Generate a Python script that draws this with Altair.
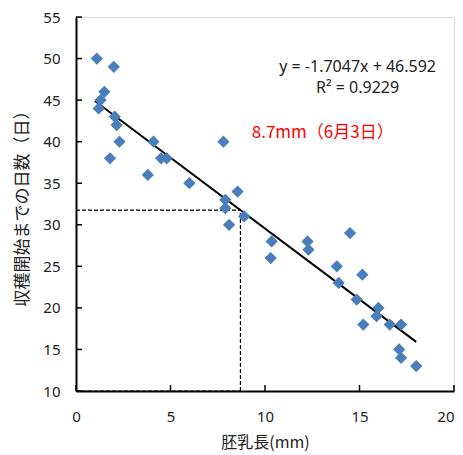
import altair as alt
import pandas as pd

# Data
length_mm = [1.1, 2.0, 1.5, 1.3, 1.2, 2.05, 2.15, 2.3, 1.8, 4.1, 3.8, 4.5, 4.8, 6.0,
             7.8, 8.55, 7.9, 7.9, 8.1, 8.9, 10.35, 10.3, 12.25, 12.3, 14.5, 13.8,
             13.9, 15.15, 14.85, 16.0, 15.9, 15.2, 16.6, 17.2, 17.1, 17.2, 18.0]
days = [50, 49, 46, 45, 44, 43, 42, 40, 38, 40, 36, 38, 38, 35,
        40, 34, 33, 32, 30, 31, 28, 26, 28, 27, 29, 25,
        23, 24, 21, 20, 19, 18, 18, 18, 15, 14, 13]

slope = -1.7047
intercept = 46.592
fit_x = [1.0, 18.0]

ref_x = 8.7
ref_y = 31.76

x_ticks = [0, 5, 10, 15, 20]
y_ticks = [10, 15, 20, 25, 30, 35, 40, 45, 50, 55]

eq_text = ["y = -1.7047x + 46.592", "R² = 0.9229"]
eq_pos_x = [14.9, 14.9]
eq_pos_y = [49.0, 46.5]
note_text = "8.7mm（6月3日）"
note_x = 9.3
note_y = 41.1

pts = pd.DataFrame({"x": length_mm, "y": days})
fit = pd.DataFrame({"x": fit_x, "y": [slope * v + intercept for v in fit_x]})

xs = alt.Scale(domain=[0, 20], nice=False, zero=False)
ys = alt.Scale(domain=[10, 55], nice=False, zero=False)

FONT = "Noto Sans"
JP = "Noto Sans CJK JP"

points = alt.Chart(pts).mark_point(shape="diamond", filled=True, size=150,
                                   color="#4A7EBB", opacity=1).encode(
    x=alt.X("x:Q", scale=xs, title="胚乳長(mm)",
            axis=alt.Axis(values=x_ticks, grid=False, ticks=False, tickSize=0,
                          labelFlush=False, labelOverlap=False,
                          labelAlign={"condition": {"test": "datum.value == 20", "value": "right"},
                                      "value": "center"},
                          domainColor="black", domainWidth=2,
                          labelFont=FONT, labelFontSize=15, labelColor="#222",
                          labelPadding=18, titleFont=JP, titleFontSize=16,
                          titleFontWeight="normal", titleColor="#222",
                          titlePadding=10)),
    y=alt.Y("y:Q", scale=ys, title="収穫開始までの日数（日）",
            axis=alt.Axis(values=y_ticks, grid=False, ticks=False, tickSize=0,
                          labelFlush=False, labelOverlap=False,
                          domainColor="black", domainWidth=2,
                          labelFont=FONT, labelFontSize=15, labelColor="#222",
                          labelPadding=16, titleFont=JP, titleFontSize=17,
                          titleFontWeight="normal", titleColor="#222",
                          titlePadding=11)),
)

line = alt.Chart(fit).mark_line(color="black", strokeWidth=2).encode(
    x=alt.X("x:Q", scale=xs), y=alt.Y("y:Q", scale=ys))

dash = dict(color="black", strokeWidth=1.2, strokeDash=[4, 2])
hrule = alt.Chart(pd.DataFrame({"x": [0, 0], "x2": [ref_x, ref_x], "y": [ref_y, 10]})).mark_rule(**dash).encode(
    x=alt.X("x:Q", scale=xs), x2="x2:Q", y=alt.Y("y:Q", scale=ys))
vrule = alt.Chart(pd.DataFrame({"x": [ref_x], "y": [10], "y2": [ref_y]})).mark_rule(**dash).encode(
    x=alt.X("x:Q", scale=xs), y=alt.Y("y:Q", scale=ys), y2="y2:Q")

xt = alt.Chart(pd.DataFrame({"x": x_ticks})).mark_rule(color="black", strokeWidth=1.5).encode(
    x=alt.X("x:Q", scale=xs), y=alt.value(374), y2=alt.value(368))
yt = alt.Chart(pd.DataFrame({"y": y_ticks})).mark_rule(color="black", strokeWidth=1.5).encode(
    y=alt.Y("y:Q", scale=ys), x=alt.value(0), x2=alt.value(6))

eq = alt.Chart(pd.DataFrame({"t": eq_text, "x": eq_pos_x, "y": eq_pos_y})).mark_text(
    font=FONT, fontSize=16, color="#222", align="center", baseline="middle").encode(
    x=alt.X("x:Q", scale=xs), y=alt.Y("y:Q", scale=ys), text="t:N")

note = alt.Chart(pd.DataFrame({"t": [note_text], "x": [note_x], "y": [note_y]})).mark_text(
    font=JP, fontSize=17, color="#FF0000", align="left", baseline="middle").encode(
    x=alt.X("x:Q", scale=xs), y=alt.Y("y:Q", scale=ys), text="t:N")

chart = alt.layer(hrule, vrule, xt, yt, line, points, eq, note).properties(
    width=378, height=374,
    autosize=alt.AutoSizeParams(type="none"),
    padding={"left": 68, "top": 9, "right": 1, "bottom": 61},
).configure_view(stroke=None).configure(background="white")

chart.save("out.html", embed_options={"renderer": "svg", "actions": False})
